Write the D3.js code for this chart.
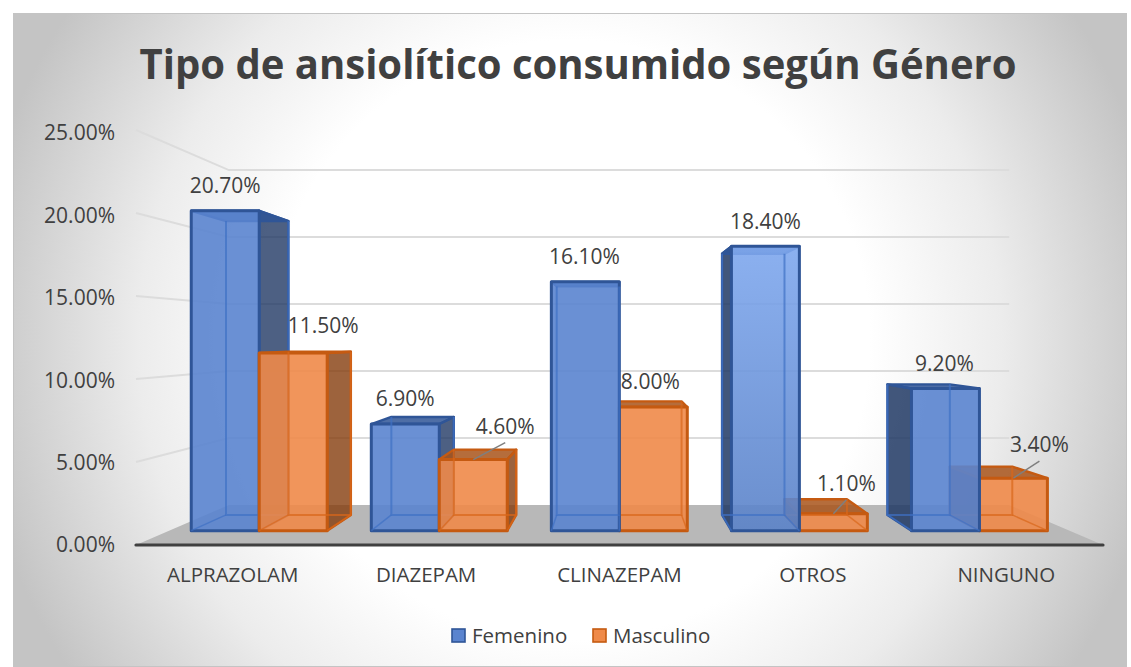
<!DOCTYPE html>
<html><head><meta charset="utf-8">
<script src="https://cdn.jsdelivr.net/npm/d3@7"></script>
<style>html,body{margin:0;padding:0;background:#fff}svg{display:block}text{font-family:"Open Sans",sans-serif}</style>
</head><body><svg id="c" width="1131" height="667"></svg>
<script>
const categories = ["ALPRAZOLAM","DIAZEPAM","CLINAZEPAM","OTROS","NINGUNO"];
const seriesNames = ["Femenino","Masculino"];
const femenino = [20.7,6.9,16.1,18.4,9.2];
const masculino = [11.5,4.6,8.0,1.1,3.4];
const yTicks = [0,5,10,15,20,25];

const svg=d3.select("#c");
const defs=svg.append("defs");
const bg=defs.append("radialGradient").attr("id","bg").attr("gradientUnits","userSpaceOnUse")
  .attr("cx",570).attr("cy",340).attr("r",600);
[[0,"#ffffff"],[0.5,"#ffffff"],[0.72,"#ececec"],[1,"#c4c4c4"]].forEach(s=>bg.append("stop").attr("offset",s[0]).attr("stop-color",s[1]));
const lit=defs.append("linearGradient").attr("id","lit").attr("x1",0).attr("x2",0).attr("y1",0).attr("y2",1);
[[0,"#7fa8ee"],[1,"#5a82c8"]].forEach(s=>lit.append("stop").attr("offset",s[0]).attr("stop-color",s[1]));
svg.append("rect").attr("x",13.5).attr("y",13.5).attr("width",1113).attr("height",653).attr("fill","url(#bg)").attr("stroke","#c4c4c4");

const x0=d3.scaleBand().domain(categories).range([136,1103]).paddingInner(0.245).paddingOuter(0.1225);
const x1=d3.scaleBand().domain(seriesNames).range([0,x0.bandwidth()]);
const y=d3.scaleLinear().domain([0,25]).range([545,130]);
const yLabel=d3.scaleLinear().domain([0,25]).range([545,133]);
const VX=617,VY=337.5;
const kBack=0.807,kBarF=0.931,kBarB=0.855;
const P=(X,v,k)=>[VX+(X-VX)*k,VY+(y(v)-VY)*k];
const poly=pts=>pts.map(p=>p.join(",")).join(" ");

const gGrid=svg.append("g");
gGrid.append("polygon").attr("points",poly([P(136,0,1),P(136,0,kBack),P(1103,0,kBack),P(1103,0,1)])).attr("fill","#b8b8b8");
yTicks.forEach(t=>{
  if(t>0){
    gGrid.append("polyline").attr("fill","none").attr("stroke","#dcdcdc").attr("stroke-width",2)
      .attr("points",poly([P(136,t,1),P(136,t,kBack),P(1103,t,kBack)]));
  }
  svg.append("text").attr("x",115).attr("y",yLabel(t)).attr("dy","0.35em").attr("text-anchor","end")
    .attr("font-size",21).attr("fill","#404040").text(d3.format(".2f")(t)+"%");
});
gGrid.append("line").attr("x1",136).attr("x2",1103).attr("y1",545).attr("y2",545).attr("stroke","#404040").attr("stroke-width",3.2).attr("stroke-linecap","round");

const pal={Femenino:{fill:"#5a84cf",side:"#203864",top:"#2f5597",stroke:"#2f5597",line:"#3f70c4"},
           Masculino:{fill:"#ef8a49",side:"#843c0c",top:"#a8541a",stroke:"#c55a11",line:"#d9661a"}};
const marks=[];
categories.forEach((c,i)=>{
  [femenino[i],masculino[i]].forEach((v,j)=>{
    const s=seriesNames[j];
    const xa=x0(c)+x1(s),xb=xa+x1.bandwidth();
    marks.push({c,s,v,xa,xb,dist:Math.abs((xa+xb)/2-VX)});
  });
});
marks.sort((a,b)=>d3.descending(a.dist,b.dist));
const gBars=svg.selectAll("g.bar").data(marks).join("g").attr("class","bar");
gBars.each(function(d){
  const g=d3.select(this),p=pal[d.s];
  const f=(X,v)=>P(X,v,kBarF), b=(X,v)=>P(X,v,kBarB);
  const face=(pts,fill,op,sw)=>g.append("polygon").attr("points",poly(pts)).attr("fill",fill).attr("fill-opacity",op)
    .attr("stroke",p.stroke).attr("stroke-width",sw).attr("stroke-linejoin","round");
  if(d.xa>VX) face([f(d.xa,0),b(d.xa,0),b(d.xa,d.v),f(d.xa,d.v)],p.side,0.85,2.4);
  if(d.xb<VX) face([f(d.xb,0),b(d.xb,0),b(d.xb,d.v),f(d.xb,d.v)],p.side,0.8,2.4);
  face([f(d.xa,d.v),f(d.xb,d.v),b(d.xb,d.v),b(d.xa,d.v)],p.top,0.85,2.4);
  const litBar=d.c==="OTROS"&&d.s==="Femenino";
  face([f(d.xa,0),f(d.xb,0),f(d.xb,d.v),f(d.xa,d.v)],litBar?"url(#lit)":p.fill,0.9,3);
  g.append("polyline").attr("fill","none").attr("stroke",p.line).attr("stroke-width",2).attr("stroke-opacity",0.7)
    .attr("points",poly([b(d.xa,d.v),b(d.xa,0),b(d.xb,0),b(d.xb,d.v)]));
  g.append("line").attr("stroke",p.line).attr("stroke-width",1.5).attr("stroke-opacity",0.7)
    .attr("x1",f(d.xa,0)[0]).attr("y1",f(d.xa,0)[1]).attr("x2",b(d.xa,0)[0]).attr("y2",b(d.xa,0)[1]);
  g.append("line").attr("stroke",p.line).attr("stroke-width",1.5).attr("stroke-opacity",0.7)
    .attr("x1",f(d.xb,0)[0]).attr("y1",f(d.xb,0)[1]).attr("x2",b(d.xb,0)[0]).attr("y2",b(d.xb,0)[1]);
});

const fmt=v=>d3.format(".2f")(v)+"%";
const labelOffsets={"ALPRAZOLAM|Femenino":[0,-25],"ALPRAZOLAM|Masculino":[30,-27],"DIAZEPAM|Femenino":[0,-25],"DIAZEPAM|Masculino":[32,-33],
"CLINAZEPAM|Femenino":[-1,-25],"CLINAZEPAM|Masculino":[-3,-25],"OTROS|Femenino":[0,-25],"OTROS|Masculino":[13,-30],"NINGUNO|Femenino":[-1,-25],"NINGUNO|Masculino":[26,-33]};
const leaders=new Set(["DIAZEPAM|Masculino","OTROS|Masculino","NINGUNO|Masculino"]);
marks.forEach(d=>{
  const key=d.c+"|"+d.s,o=labelOffsets[key];
  const fp=P((d.xa+d.xb)/2,d.v,kBarF);
  if(leaders.has(key)){
    svg.append("line").attr("x1",fp[0]).attr("y1",fp[1]).attr("x2",fp[0]+o[0]).attr("y2",fp[1]+o[1]+16)
      .attr("stroke","#7f7f7f").attr("stroke-width",1.5);
  }
  svg.append("text").attr("x",fp[0]+o[0]).attr("y",fp[1]+o[1]).attr("dy","0.35em").attr("text-anchor","middle")
    .attr("font-size",21).attr("fill","#404040").text(fmt(d.v));
});

categories.forEach(c=>{
  const cx=x0(c)+x0.bandwidth()/2;
  svg.append("text").attr("x",cx).attr("y",575).attr("dy","0.35em").attr("text-anchor","middle")
    .attr("font-size",20.5).attr("fill","#404040").text(c);
});

svg.append("text").attr("x",578).attr("y",64).attr("dy","0.35em").attr("text-anchor","middle")
  .attr("textLength",877).attr("lengthAdjust","spacingAndGlyphs")
  .attr("font-size",42).attr("font-weight",700).attr("fill","#404040").text("Tipo de ansiolítico consumido según Género");

const leg=[[452,"Femenino"],[593,"Masculino"]];
leg.forEach(l=>{
  const p=pal[l[1]];
  svg.append("rect").attr("x",l[0]).attr("y",629).attr("width",13).attr("height",13).attr("fill",p.fill).attr("stroke",p.stroke).attr("stroke-width",1.6);
  svg.append("text").attr("x",l[0]+20).attr("y",636).attr("dy","0.35em").attr("font-size",20.5).attr("fill","#404040").text(l[1]);
});
</script></body></html>
